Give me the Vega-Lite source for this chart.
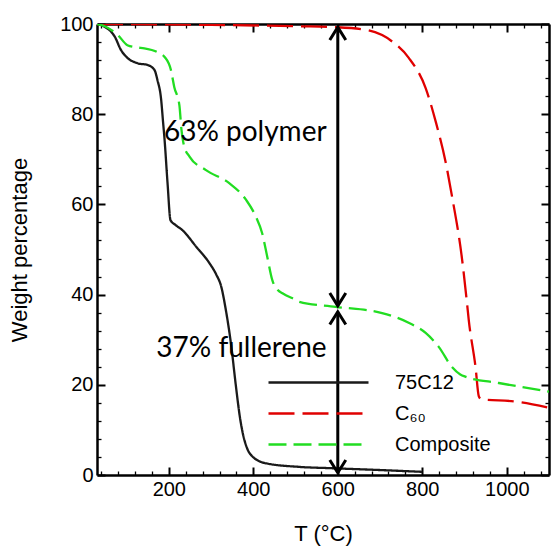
{
  "$schema": "https://vega.github.io/schema/vega-lite/v6.json",
  "width": 452,
  "height": 451,
  "autosize": {"type": "none"},
  "padding": {"left": 97, "top": 24, "right": 3, "bottom": 79},
  "background": "white",
  "config": {"view": {"stroke": null}, "font": "Liberation Sans"},
  "resolve": {"axis": {"x": "independent", "y": "independent"}},
  "layer": [
    {
      "data": {"values": [
        {"series": "75C12", "T": 30, "W": 100}, {"series": "75C12", "T": 48, "W": 99.4}, {"series": "75C12", "T": 72, "W": 97.2}, {"series": "75C12", "T": 87, "W": 94.2}, {"series": "75C12", "T": 102, "W": 92.5}, {"series": "75C12", "T": 126, "W": 91.3}, {"series": "75C12", "T": 150, "W": 90.9}, {"series": "75C12", "T": 166, "W": 89.8}, {"series": "75C12", "T": 173, "W": 87.6}, {"series": "75C12", "T": 182, "W": 83.1}, {"series": "75C12", "T": 186, "W": 78.7}, {"series": "75C12", "T": 190, "W": 74.3}, {"series": "75C12", "T": 197, "W": 64.7}, {"series": "75C12", "T": 204, "W": 56.5}, {"series": "75C12", "T": 215, "W": 55.5}, {"series": "75C12", "T": 232, "W": 54.3}, {"series": "75C12", "T": 265, "W": 50.6}, {"series": "75C12", "T": 296, "W": 47}, {"series": "75C12", "T": 312, "W": 44.5}, {"series": "75C12", "T": 324, "W": 41.8}, {"series": "75C12", "T": 335, "W": 36.6}, {"series": "75C12", "T": 347, "W": 29.2}, {"series": "75C12", "T": 359, "W": 19.6}, {"series": "75C12", "T": 368, "W": 13}, {"series": "75C12", "T": 375, "W": 9.3}, {"series": "75C12", "T": 385, "W": 6}, {"series": "75C12", "T": 398, "W": 4.1}, {"series": "75C12", "T": 430, "W": 2.6}, {"series": "75C12", "T": 509, "W": 1.8}, {"series": "75C12", "T": 587, "W": 1.5}, {"series": "75C12", "T": 700, "W": 1.1}, {"series": "75C12", "T": 800, "W": 0.7},
        {"series": "C₆₀", "T": 30, "W": 100}, {"series": "C₆₀", "T": 300, "W": 99.8}, {"series": "C₆₀", "T": 509, "W": 99.5}, {"series": "C₆₀", "T": 595, "W": 99.3}, {"series": "C₆₀", "T": 666, "W": 98.7}, {"series": "C₆₀", "T": 729, "W": 96.1}, {"series": "C₆₀", "T": 768, "W": 92.5}, {"series": "C₆₀", "T": 808, "W": 85.8}, {"series": "C₆₀", "T": 832, "W": 78.3}, {"series": "C₆₀", "T": 855, "W": 69.5}, {"series": "C₆₀", "T": 870, "W": 62}, {"series": "C₆₀", "T": 894, "W": 48}, {"series": "C₆₀", "T": 906, "W": 38}, {"series": "C₆₀", "T": 910, "W": 34.4}, {"series": "C₆₀", "T": 926, "W": 24}, {"series": "C₆₀", "T": 934, "W": 17.4}, {"series": "C₆₀", "T": 940, "W": 16.8}, {"series": "C₆₀", "T": 1020, "W": 16.3}, {"series": "C₆₀", "T": 1100, "W": 14.9},
        {"series": "Composite", "T": 30, "W": 100}, {"series": "Composite", "T": 48, "W": 99.5}, {"series": "Composite", "T": 79, "W": 97.6}, {"series": "Composite", "T": 102, "W": 95.3}, {"series": "Composite", "T": 125, "W": 94.8}, {"series": "Composite", "T": 142, "W": 94.6}, {"series": "Composite", "T": 170, "W": 93.9}, {"series": "Composite", "T": 190, "W": 92.7}, {"series": "Composite", "T": 205, "W": 89.8}, {"series": "Composite", "T": 213, "W": 86}, {"series": "Composite", "T": 225, "W": 82}, {"series": "Composite", "T": 230, "W": 76.5}, {"series": "Composite", "T": 236, "W": 73}, {"series": "Composite", "T": 249, "W": 70.6}, {"series": "Composite", "T": 288, "W": 67.6}, {"series": "Composite", "T": 343, "W": 64.7}, {"series": "Composite", "T": 383, "W": 61}, {"series": "Composite", "T": 406, "W": 57.3}, {"series": "Composite", "T": 421, "W": 53.6}, {"series": "Composite", "T": 433, "W": 48.4}, {"series": "Composite", "T": 445, "W": 43.2}, {"series": "Composite", "T": 458, "W": 41}, {"series": "Composite", "T": 469, "W": 40.3}, {"series": "Composite", "T": 501, "W": 38.8}, {"series": "Composite", "T": 509, "W": 38.4}, {"series": "Composite", "T": 595, "W": 37.3}, {"series": "Composite", "T": 705, "W": 35.9}, {"series": "Composite", "T": 769, "W": 33.7}, {"series": "Composite", "T": 808, "W": 31.5}, {"series": "Composite", "T": 839, "W": 28.4}, {"series": "Composite", "T": 870, "W": 24}, {"series": "Composite", "T": 890, "W": 22.3}, {"series": "Composite", "T": 902, "W": 21.8}, {"series": "Composite", "T": 981, "W": 20.4}, {"series": "Composite", "T": 1100, "W": 18.5}
      ]},
      "mark": {"type": "line", "strokeWidth": 2.3, "interpolate": "monotone", "clip": true},
      "encoding": {
        "x": {"field": "T", "type": "quantitative", "scale": {"domain": [30, 1100], "nice": false, "zero": false},
          "axis": {"orient": "bottom", "values": [200, 400, 600, 800, 1000],
            "title": "T (°C)", "titleFont": "Liberation Sans", "titleFontSize": 22, "titleFontWeight": "normal", "titleColor": "black", "titlePadding": 24,
            "labelFont": "Liberation Sans", "labelFontSize": 20, "labelColor": "black", "labelPadding": 12, "labelOverlap": false, "labelFlush": false, "format": "d",
            "tickSize": -8, "tickWidth": 2,
            "tickColor": "black", "domainColor": "black", "domainWidth": 2.5, "grid": false}},
        "y": {"field": "W", "type": "quantitative", "scale": {"domain": [0, 100], "nice": false},
          "axis": {"orient": "left", "values": [0, 20, 40, 60, 80, 100],
            "title": "Weight percentage", "titleFont": "Liberation Sans", "titleFontSize": 22, "titleFontWeight": "normal", "titleColor": "black", "titlePadding": 28,
            "labelFont": "Liberation Sans", "labelFontSize": 20, "labelColor": "black", "labelPadding": 12, "labelOverlap": false, "labelFlush": false, "format": "d",
            "tickSize": -8, "tickWidth": 2,
            "tickColor": "black", "domainColor": "black", "domainWidth": 2.5, "grid": false}},
        "color": {"field": "series", "type": "nominal",
          "scale": {"domain": ["75C12", "C₆₀", "Composite"], "range": ["#1a1a1a", "#e00000", "#22dd22"]},
          "legend": {"orient": "none", "legendX": 170, "legendY": 343, "title": null, "symbolType": "stroke", "symbolSize": 10000, "symbolStrokeWidth": 2.3, "clipHeight": 31, "labelFont": "Liberation Sans", "labelFontSize": 20, "labelColor": "black", "labelOffset": 25, "rowPadding": 0, "padding": 0}},
        "strokeDash": {"field": "series", "type": "nominal",
          "scale": {"domain": ["75C12", "C₆₀", "Composite"], "range": [[1, 0], [26, 8], [18, 7]]},
          "legend": {"orient": "none", "legendX": 170, "legendY": 343, "title": null, "symbolType": "stroke", "symbolSize": 10000, "symbolStrokeWidth": 2.3, "clipHeight": 31, "labelFont": "Liberation Sans", "labelFontSize": 20, "labelColor": "black", "labelOffset": 25, "rowPadding": 0, "padding": 0}}
      }
    },
    {
      "data": {"values": [{"T": 600, "a": 99.3, "b": 37.5}, {"T": 600, "a": 36.2, "b": 0.5}]},
      "mark": {"type": "rule", "strokeWidth": 3, "color": "black"},
      "encoding": {
        "x": {"field": "T", "type": "quantitative", "scale": {"domain": [30, 1100], "nice": false, "zero": false},
          "axis": {"orient": "bottom", "title": null, "labels": false, "domain": false, "values": [40,80,120,160,240,280,320,360,440,480,520,560,640,680,720,760,840,880,920,960,1040,1080],
            "tickSize": -4, "tickWidth": 1.3, "tickColor": "black", "grid": false}},
        "y": {"field": "a", "type": "quantitative", "scale": {"domain": [0, 100], "nice": false},
          "axis": {"orient": "left", "title": null, "labels": false, "domain": false, "values": [4,8,12,16,24,28,32,36,44,48,52,56,64,68,72,76,84,88,92,96],
            "tickSize": -4, "tickWidth": 1.3, "tickColor": "black", "grid": false}},
        "y2": {"field": "b"}
      }
    },
    {
      "data": {"values": [{"T": 600, "W": 99.3, "dir": "up"}, {"T": 600, "W": 37.5, "dir": "down"}, {"T": 600, "W": 36.2, "dir": "up"}, {"T": 600, "W": 0.5, "dir": "down"}]},
      "mark": {"type": "point", "filled": false, "stroke": "black", "strokeWidth": 3, "size": 256, "opacity": 1},
      "encoding": {
        "x": {"field": "T", "type": "quantitative", "scale": {"domain": [30, 1100], "nice": false, "zero": false},
          "axis": {"orient": "top", "title": null, "labels": false, "values": [200, 400, 600, 800, 1000],
            "tickSize": -8, "tickWidth": 2, "tickColor": "black", "domainColor": "black", "domainWidth": 2.5, "grid": false}},
        "y": {"field": "W", "type": "quantitative", "scale": {"domain": [0, 100], "nice": false},
          "axis": {"orient": "right", "title": null, "labels": false, "values": [0, 20, 40, 60, 80, 100],
            "tickSize": -8, "tickWidth": 2, "tickColor": "black", "domainColor": "black", "domainWidth": 2.5, "grid": false}},
        "shape": {"field": "dir", "type": "nominal", "scale": {"domain": ["up", "down"], "range": ["M-1,1.6L0,0L1,1.6", "M-1,-1.6L0,0L1,-1.6"]}, "legend": null}
      }
    },
    {
      "data": {"values": [{"T": 381, "W": 75.8, "label": "63% polymer"}, {"T": 372, "W": 28, "label": "37% fullerene"}]},
      "mark": {"type": "text", "font": "Lato", "fontSize": 28, "align": "center", "baseline": "middle", "color": "black"},
      "encoding": {
        "x": {"field": "T", "type": "quantitative", "scale": {"domain": [30, 1100], "nice": false, "zero": false},
          "axis": {"orient": "top", "title": null, "labels": false, "domain": false, "values": [40,80,120,160,240,280,320,360,440,480,520,560,640,680,720,760,840,880,920,960,1040,1080],
            "tickSize": -4, "tickWidth": 1.3, "tickColor": "black", "grid": false}},
        "y": {"field": "W", "type": "quantitative", "scale": {"domain": [0, 100], "nice": false},
          "axis": {"orient": "right", "title": null, "labels": false, "domain": false, "values": [4,8,12,16,24,28,32,36,44,48,52,56,64,68,72,76,84,88,92,96],
            "tickSize": -4, "tickWidth": 1.3, "tickColor": "black", "grid": false}},
        "text": {"field": "label"}
      }
    }
  ]
}
